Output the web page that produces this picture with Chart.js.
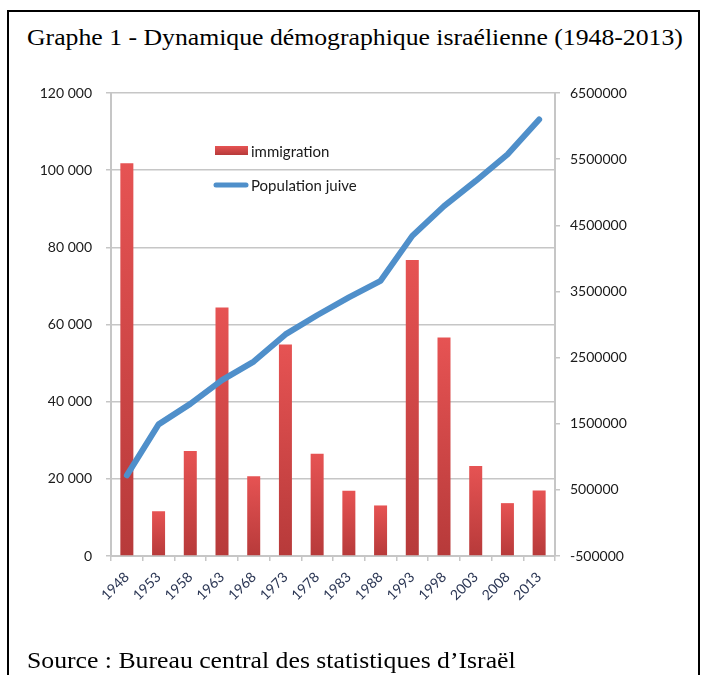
<!DOCTYPE html>
<html lang="fr">
<head>
<meta charset="UTF-8">
<script src="https://cdn.jsdelivr.net/npm/chart.js@4.4.1/dist/chart.umd.min.js"></script>
<title>Graphe 1</title>
<style>
  body { margin: 0; background: #fff; }
  .page { position: relative; width: 704px; height: 675px; overflow: hidden; }
  .frame { position: absolute; left: 7px; top: 10px; width: 689px; height: 720px; border: 2px solid #000; }
  .title, .source { position: absolute; left: 27px; font-family: 'Liberation Serif', serif; font-size: 24px; color: #000; white-space: nowrap; transform: scaleX(1.072); transform-origin: left top; }
  .title { top: 24px; }
  .source { top: 647px; }
  #chart { position: absolute; left: 0; top: 0; }
</style>
</head>
<body>
<div class="page">
  <div class="frame"></div>
  <div class="title">Graphe 1 - Dynamique démographique israélienne (1948-2013)</div>
  <canvas id="chart" width="704" height="675"></canvas>
  <div class="source">Source : Bureau central des statistiques d’Israël</div>
</div>
<script>
// values
const years = ['1948', '1953', '1958', '1963', '1968', '1973', '1978', '1983', '1988', '1993', '1998', '2003', '2008', '2013'];
const immigration = [101800, 11600, 27200, 64400, 20700, 54800, 26500, 16900, 13100, 76700, 56600, 23300, 13700, 17000];
const population = [720000, 1490000, 1800000, 2160000, 2440000, 2850000, 3140000, 3410000, 3660000, 4340000, 4790000, 5170000, 5570000, 6100000];
const leftTicks = [0, 20000, 40000, 60000, 80000, 100000, 120000];
const rightTicks = [-500000, 500000, 1500000, 2500000, 3500000, 4500000, 5500000, 6500000];

const barTop = '#e65353';
const barBottom = '#b73a3a';
const lineBlue = '#4f8fca';
const gridGrey = '#c6c6c6';
const tickFont = { family: 'Lato', size: 14 };

function spaced(v) {
  return String(v).replace(/\B(?=(\d{3})+(?!\d))/g, ' ');
}

// each bar gets its own light-to-dark vertical gradient
function barFill(c) {
  const chart = c.chart;
  if (!chart.chartArea || c.type !== 'data') return barTop;
  const y = chart.scales.y;
  const top = y.getPixelForValue(c.raw);
  const bottom = y.getPixelForValue(0);
  if (!isFinite(top) || bottom - top < 1) return barTop;
  const g = chart.ctx.createLinearGradient(0, top, 0, bottom);
  g.addColorStop(0, barTop);
  g.addColorStop(1, barBottom);
  return g;
}

// legend sits inside the plot, like the spreadsheet one
const innerLegend = {
  id: 'innerLegend',
  afterDatasetsDraw(chart) {
    const ctx = chart.ctx;
    ctx.save();
    const g = ctx.createLinearGradient(0, 146, 0, 155);
    g.addColorStop(0, barTop);
    g.addColorStop(1, barBottom);
    ctx.fillStyle = g;
    ctx.fillRect(215, 146, 33, 9);

    ctx.strokeStyle = lineBlue;
    ctx.lineWidth = 5;
    ctx.lineCap = 'round';
    ctx.beginPath();
    ctx.moveTo(216, 185);
    ctx.lineTo(246, 185);
    ctx.stroke();

    ctx.fillStyle = '#1a1a1a';
    ctx.font = '15px Lato';
    ctx.textBaseline = 'middle';
    ctx.fillText(chart.data.datasets[0].label, 251, 152);
    ctx.fillText(chart.data.datasets[1].label, 251, 186);
    ctx.restore();
  }
};

new Chart(document.getElementById('chart'), {
  data: {
    labels: years,
    datasets: [
      {
        type: 'bar',
        label: 'immigration',
        data: immigration,
        backgroundColor: barFill,
        barPercentage: 0.41,
        categoryPercentage: 1,
        yAxisID: 'y',
        order: 2
      },
      {
        type: 'line',
        label: 'Population juive',
        data: population,
        borderColor: lineBlue,
        borderWidth: 6,
        pointRadius: 0,
        tension: 0,
        borderCapStyle: 'round',
        borderJoinStyle: 'round',
        yAxisID: 'y1',
        order: 1
      }
    ]
  },
  options: {
    responsive: false,
    animation: false,
    layout: { padding: { left: 0, right: 49, top: 93, bottom: 0 } },
    plugins: {
      legend: { display: false },
      tooltip: { enabled: false }
    },
    scales: {
      x: {
        afterFit: s => { s.height = 119; },
        grid: { drawOnChartArea: false, color: gridGrey, lineWidth: 1.5, tickLength: 5 },
        border: { color: gridGrey, width: 2 },
        ticks: { color: '#2b3654', font: { family: 'Lato', size: 14 }, minRotation: 45, maxRotation: 45, padding: 8 }
      },
      y: {
        position: 'left',
        min: 0,
        max: 120000,
        afterFit: s => { s.width = 111; },
        afterBuildTicks: s => { s.ticks = leftTicks.map(v => ({ value: v })); },
        grid: { color: gridGrey, lineWidth: 1.5, tickLength: 5 },
        border: { color: gridGrey, width: 2 },
        ticks: { color: '#1a1a1a', font: tickFont, padding: 14, callback: v => spaced(v) }
      },
      y1: {
        position: 'right',
        min: -500000,
        max: 6500000,
        afterFit: s => { s.width = 100; },
        afterBuildTicks: s => { s.ticks = rightTicks.map(v => ({ value: v })); },
        grid: { drawOnChartArea: false, color: gridGrey, lineWidth: 1.5, tickLength: 5 },
        border: { color: gridGrey, width: 2 },
        ticks: { color: '#1a1a1a', font: tickFont, padding: 10, callback: v => String(v) }
      }
    }
  },
  plugins: [innerLegend]
});
</script>
</body>
</html>
